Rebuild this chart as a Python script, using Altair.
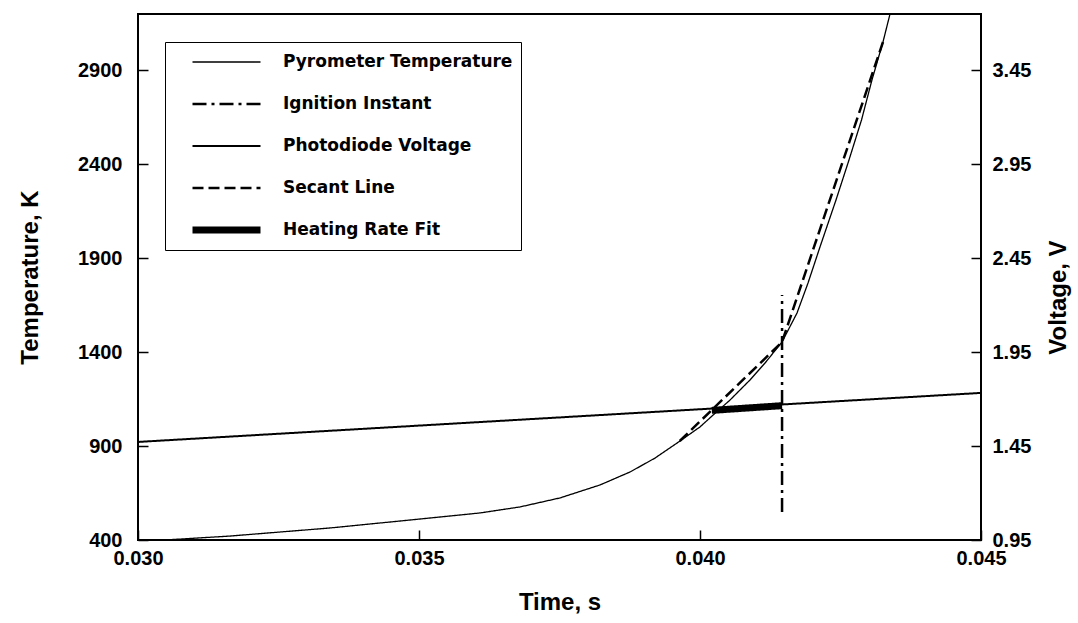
import altair as alt
import pandas as pd

series_names = ["Pyrometer Temperature", "Ignition Instant", "Photodiode Voltage",
                "Secant Line", "Heating Rate Fit"]

# Pyrometer temperature (K) vs time (s)
pyro_time = [0.030480, 0.031637, 0.033416, 0.035196, 0.036085, 0.036797, 0.037509,
             0.038221, 0.038754, 0.039199, 0.039644, 0.040000, 0.040214, 0.040534,
             0.040890, 0.041157, 0.041459, 0.041726, 0.041922, 0.042135, 0.042420,
             0.042651, 0.042874, 0.043060, 0.043256, 0.043381]
pyro_temp = [400, 421, 464, 517, 544, 576, 624,
             693, 762, 836, 927, 1002, 1060, 1145,
             1252, 1342, 1454, 1608, 1768, 1960, 2210,
             2423, 2636, 2849, 3051, 3200]

# Ignition instant (vertical marker)
ign_time = [0.04146, 0.04146]
ign_temp = [549, 1704]

# Secant line
secant_time = [0.03964, 0.04146, 0.043256]
secant_temp = [927, 1454, 3051]

# Photodiode voltage (V)
photo_time = [0.030, 0.035, 0.040, 0.045]
photo_volt = [1.472, 1.559, 1.646, 1.733]

# Heating rate fit (on voltage axis)
fit_time = [0.04021, 0.04146]
fit_volt = [1.640, 1.665]

x_ticks = [0.030, 0.035, 0.040, 0.045]
temp_ticks = [400, 900, 1400, 1900, 2400, 2900]
volt_ticks = [0.95, 1.45, 1.95, 2.45, 2.95, 3.45]

dash_range = [[1, 0], [14, 5, 3, 5], [1, 0], [11, 5], [1, 0]]
width_range = [1.3, 2.5, 2.0, 2.5, 7.0]


def frame(name, xs, ys, col):
    return pd.DataFrame({"time": xs, col: ys, "series": name, "idx": list(range(len(xs)))})


temp_df = pd.concat([
    frame("Pyrometer Temperature", pyro_time, pyro_temp, "temp"),
    frame("Ignition Instant", ign_time, ign_temp, "temp"),
    frame("Secant Line", secant_time, secant_temp, "temp"),
], ignore_index=True)

volt_df = pd.concat([
    frame("Photodiode Voltage", photo_time, photo_volt, "volt"),
    frame("Heating Rate Fit", fit_time, fit_volt, "volt"),
], ignore_index=True)

x_enc = alt.X("time:Q",
              scale=alt.Scale(domain=[0.030, 0.045], nice=False, zero=False),
              axis=alt.Axis(values=x_ticks, format=".3f", title="Time, s",
                            labelPadding=8, titleX=421.5, titleY=72,
                            titleBaseline="middle", titleAlign="center"))

dash_enc = alt.StrokeDash("series:N",
                          scale=alt.Scale(type="ordinal", domain=series_names, range=dash_range),
                          legend=alt.Legend(title=None))
width_enc = alt.StrokeWidth("series:N",
                            scale=alt.Scale(type="ordinal", domain=series_names, range=width_range),
                            legend=alt.Legend(title=None))

temp_layer = alt.Chart(temp_df).mark_line(color="black", clip=True).encode(
    x=x_enc,
    y=alt.Y("temp:Q",
            scale=alt.Scale(domain=[400, 3200], nice=False, zero=False),
            axis=alt.Axis(values=temp_ticks, format="d", title="Temperature, K",
                          orient="left", labelPadding=16, titleX=-118, titleY=263,
                          titleAngle=270, titleBaseline="middle", titleAlign="center")),
    strokeDash=dash_enc,
    strokeWidth=width_enc,
    order=alt.Order("idx:Q"),
)

volt_layer = alt.Chart(volt_df).mark_line(color="black", clip=True).encode(
    x=x_enc,
    y=alt.Y("volt:Q",
            scale=alt.Scale(domain=[0.95, 3.75], nice=False, zero=False),
            axis=alt.Axis(values=volt_ticks, format=".2f", title="Voltage, V",
                          orient="right", labelPadding=11, titleX=87, titleY=283,
                          titleAngle=270, titleBaseline="middle", titleAlign="center")),
    strokeDash=dash_enc,
    strokeWidth=width_enc,
    order=alt.Order("idx:Q"),
)

chart = alt.layer(temp_layer, volt_layer).resolve_scale(
    y="independent"
).properties(
    width=843,
    height=526,
    autosize=alt.AutoSizeParams(type="none"),
    padding={"left": 138, "top": 14, "right": 97, "bottom": 83},
    background="white",
).configure_view(
    stroke="black", strokeWidth=2
).configure_axis(
    labelFont="Liberation Sans", labelFontSize=20, labelFontWeight="bold", labelColor="black",
    labelFlush=False,
    titleFont="Liberation Sans", titleFontSize=24, titleFontWeight="bold", titleColor="black",
    tickColor="black", tickWidth=1.5, tickSize=10, domain=False, grid=False, offset=-10,
).configure_legend(
    orient="none", legendX=27, legendY=28,
    symbolType="stroke", symbolSize=4624, symbolStrokeColor="black",
    clipHeight=24,
    labelFont="DejaVu Sans", labelFontSize=17, labelFontWeight="bold", labelColor="black",
    labelOffset=19, rowPadding=18, padding=8, symbolOffset=16,
    strokeColor="black", fillColor="white", labelLimit=400,
)

chart.save("out.html", embed_options={"renderer": "svg", "actions": False})
